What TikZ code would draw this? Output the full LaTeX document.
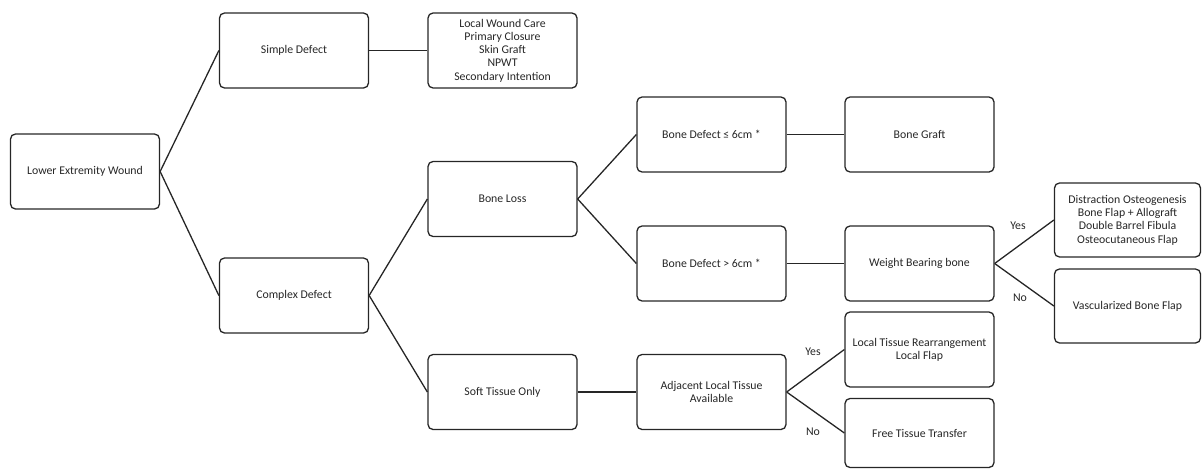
\documentclass[tikz,border=0pt]{standalone}
\usepackage{fontspec}
\setmainfont{Carlito}
\begin{document}
\begin{tikzpicture}[x=1pt,y=-1pt,
  box/.style={draw=black!85, rounded corners=5pt, line width=1.3pt, minimum width=149pt, minimum height=75pt, align=center, inner sep=0pt, font=\fontsize{11.8}{13.3}\selectfont, text=black!85},
  conn/.style={draw=black!85, line width=1.3pt},
  lbl/.style={font=\fontsize{11.8}{13.3}\selectfont, text=black!85, inner sep=0pt}]
\useasboundingbox (0,0) rectangle (1202,469);
\node[box] (lew) at (85,171.5) {Lower Extremity Wound};
\node[box] (simple) at (294,50.5) {Simple Defect};
\node[box] (lwc) at (502.5,50.5) {Local Wound Care\\Primary Closure\\Skin Graft\\NPWT\\Secondary Intention};
\node[box] (complex) at (294,295.5) {Complex Defect};
\node[box] (boneloss) at (502.5,199) {Bone Loss};
\node[box] (soft) at (502.5,392) {Soft Tissue Only};
\node[box] (bd1) at (711.5,134.5) {Bone Defect ≤ 6cm *};
\node[box] (graft) at (919.5,134.5) {Bone Graft};
\node[box] (bd2) at (711.5,263.5) {Bone Defect > 6cm *};
\node[box] (wb) at (919.5,263.5) {Weight Bearing bone};
\node[box, minimum width=146pt, minimum height=74pt] (dist) at (1127.5,220) {Distraction Osteogenesis\\Bone Flap + Allograft\\Double Barrel Fibula\\Osteocutaneous Flap};
\node[box, minimum width=146pt, minimum height=74pt] (vasc) at (1127.5,306) {Vascularized Bone Flap};
\node[box] (ltr) at (919.5,349.5) {Local Tissue Rearrangement\\Local Flap};
\node[box] (adj) at (711.5,392) {Adjacent Local Tissue\\Available};
\node[box, minimum height=69pt] (free) at (919.5,433) {Free Tissue Transfer};
\draw[conn] (lew.east) -- (simple.west);
\draw[conn] (lew.east) -- (complex.west);
\draw[conn] (simple.east) -- (lwc.west);
\draw[conn] (complex.east) -- (boneloss.west);
\draw[conn] (complex.east) -- (soft.west);
\draw[conn] (boneloss.east) -- (bd1.west);
\draw[conn] (boneloss.east) -- (bd2.west);
\draw[conn] (bd1.east) -- (graft.west);
\draw[conn] (bd2.east) -- (wb.west);
\draw[conn] (wb.east) -- (dist.west);
\draw[conn] (wb.east) -- (vasc.west);
\draw[conn] (soft.east) -- (adj.west);
\draw[conn] (adj.east) -- (ltr.west);
\draw[conn] (adj.east) -- (free.west);
\node[lbl] (yes1) at (1018,226) {Yes};
\node[lbl] (no1) at (1020,298) {No};
\node[lbl] (yes2) at (813,352) {Yes};
\node[lbl] (no2) at (813,432) {No};
\end{tikzpicture}
\end{document}
